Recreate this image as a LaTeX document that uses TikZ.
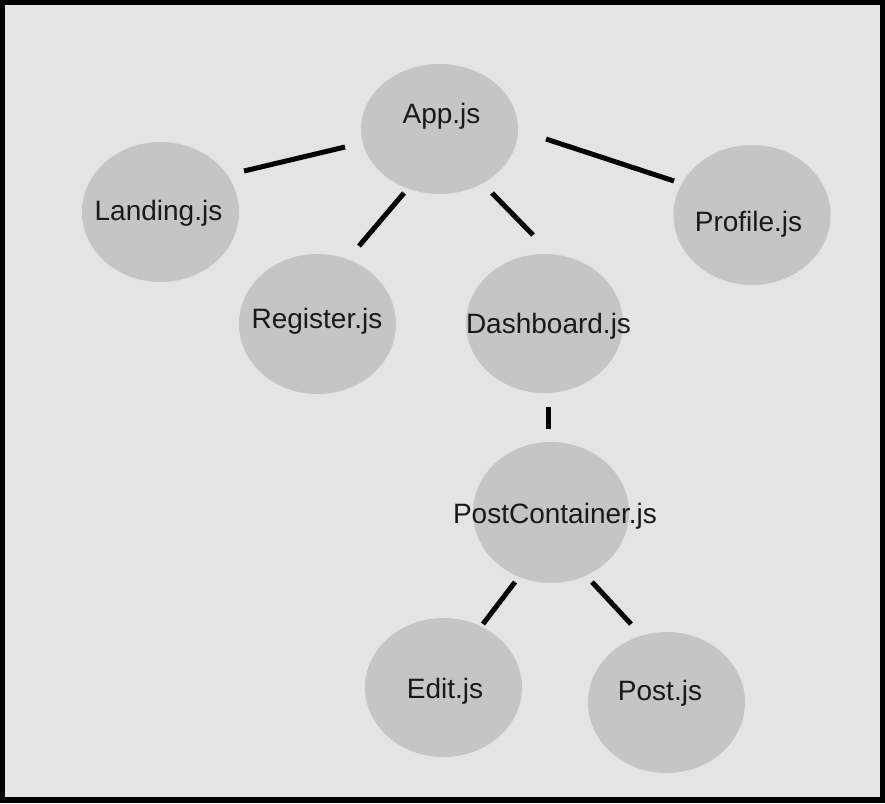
\documentclass[tikz,border=0pt]{standalone}
\usepackage{fontspec}
\setmainfont{Liberation Sans}
\usetikzlibrary{shapes.geometric}
\definecolor{bgc}{HTML}{E4E4E4}
\definecolor{elc}{HTML}{C5C5C5}
\tikzset{
  comp/.style={ellipse, fill=elc, draw=none, inner sep=0pt, minimum width=157pt, minimum height=140pt},
  lbl/.style={anchor=base, inner sep=0pt, font=\fontsize{28pt}{30pt}\selectfont, text=black!90},
  link/.style={line width=5pt, black}
}
\begin{document}
\begin{tikzpicture}[x=1pt,y=-1pt]
\fill[black] (0,0) rectangle (885,803);
\fill[bgc] (5,5) rectangle (880,797);
\useasboundingbox (0,0) rectangle (885,803);
% ellipses
\node[comp, minimum height=130pt] (app) at (439.5,129) {};
\node[comp] (landing) at (160.5,212) {};
\node[comp] (register) at (317.5,324) {};
\node[comp, minimum height=139pt] (dash) at (544.5,323.5) {};
\node[comp] (profile) at (752,215) {};
\node[comp, minimum width=156pt, minimum height=141pt] (pc) at (551,512.5) {};
\node[comp, minimum height=139pt] (edit) at (443.5,687.5) {};
\node[comp, minimum height=141pt] (post) at (666.5,702.5) {};
% labels
\node[lbl] (tapp) at (441.5,123) {App.js};
\node[lbl] (tlanding) at (158.5,220) {Landing.js};
\node[lbl] (tregister) at (317,328) {Register.js};
\node[lbl] (tdash) at (548.5,333) {Dashboard.js};
\node[lbl] (tprofile) at (748.5,231) {Profile.js};
\node[lbl] (tpc) at (555,523) {PostContainer.js};
\node[lbl] (tedit) at (445,698) {Edit.js};
\node[lbl] (tpost) at (660,700) {Post.js};
% connector ends
\coordinate (a1) at (345,147); \coordinate (l1) at (244,171);
\coordinate (a2) at (404,193); \coordinate (r1) at (359,246);
\coordinate (a3) at (492,193); \coordinate (d1) at (533,235);
\coordinate (a4) at (546,139); \coordinate (p1) at (674,181);
\coordinate (d2) at (548,407); \coordinate (c1) at (548,429);
\coordinate (c2) at (515,582); \coordinate (e1) at (483,624);
\coordinate (c3) at (592,582); \coordinate (q1) at (631,624);
\draw[link] (a1) -- (l1);
\draw[link] (a2) -- (r1);
\draw[link] (a3) -- (d1);
\draw[link] (a4) -- (p1);
\draw[link] (d2) -- (c1);
\draw[link] (c2) -- (e1);
\draw[link] (c3) -- (q1);
\end{tikzpicture}
\end{document}
